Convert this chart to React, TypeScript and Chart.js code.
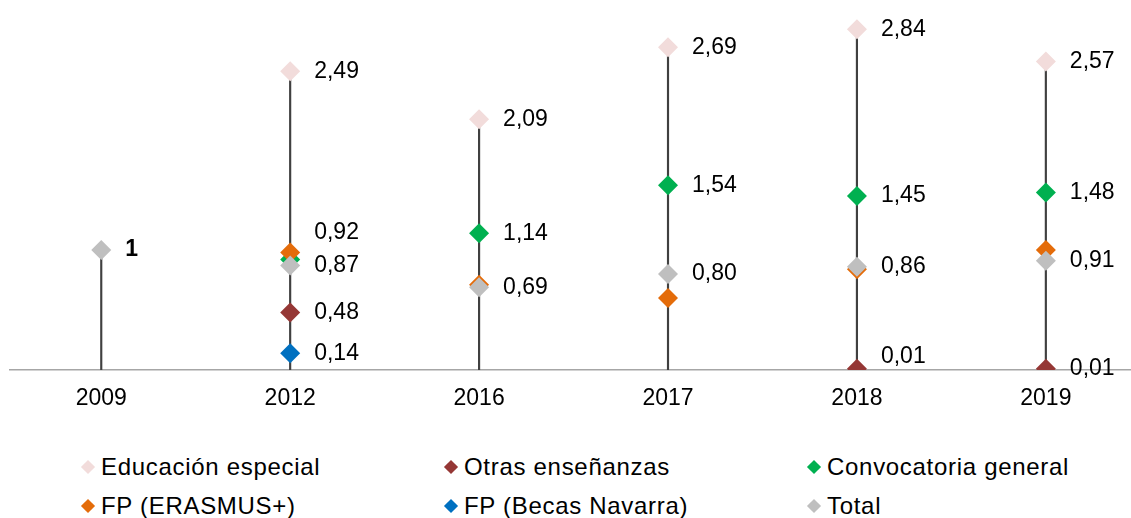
import React, { useEffect, useRef } from "react";
import { Chart, registerables } from "chart.js";

Chart.register(...registerables);

// ---- Data ----
const years = ["2009", "2012", "2016", "2017", "2018", "2019"];
const educacionEspecial = [null, 2.49, 2.09, 2.69, 2.84, 2.57];
const otrasEnsenanzas = [null, 0.48, null, null, 0.01, 0.01];
const convocatoriaGeneral = [null, 0.92, 1.14, 1.54, 1.45, 1.48];
const fpErasmus = [null, 0.98, 0.71, 0.6, 0.84, 1.0];
const fpBecasNavarra = [null, 0.14, null, null, null, null];
const total = [1, 0.87, 0.69, 0.8, 0.86, 0.91];

type Series = { name: string; values: (number | null)[]; color: string; labels: boolean };

const series: Series[] = [
  { name: "Educación especial", values: educacionEspecial, color: "#F2DCDB", labels: true },
  { name: "Otras enseñanzas", values: otrasEnsenanzas, color: "#953735", labels: true },
  { name: "Convocatoria general", values: convocatoriaGeneral, color: "#00B050", labels: true },
  { name: "FP (ERASMUS+)", values: fpErasmus, color: "#E46C0A", labels: false },
  { name: "FP (Becas Navarra)", values: fpBecasNavarra, color: "#0070C0", labels: true },
  { name: "Total", values: total, color: "#BFBFBF", labels: true },
];

// label style tweaks (series index, category index)
const labelTweaks: { s: number; i: number; dy?: number; bold?: boolean }[] = [
  { s: 5, i: 0, bold: true },
  { s: 2, i: 1, dy: -27 },
  { s: 1, i: 4, dy: -12 },
];

const FONT = '"Liberation Sans", Arial, sans-serif';
const FONT_SIZE = 23;

const stemTops = years.map((_, i) => {
  const vals = series.map((s) => s.values[i]).filter((v) => v != null) as number[];
  return vals.length ? Math.max(...vals) : 0;
});

const fmt = (v: number) => (Number.isInteger(v) ? String(v) : v.toFixed(2).replace(".", ","));

const labelPlugin = {
  id: "valueLabels",
  afterDatasetsDraw(chart: any) {
    const ctx = chart.ctx as CanvasRenderingContext2D;
    const xs = chart.scales.x;
    const ys = chart.scales.y;
    ctx.save();
    ctx.textAlign = "left";
    ctx.textBaseline = "middle";
    ctx.fillStyle = "#000";
    series.forEach((s, k) => {
      if (!s.labels) return;
      s.values.forEach((v, i) => {
        if (v == null) return;
        const tw = labelTweaks.find((t) => t.s === k && t.i === i);
        ctx.font = `${tw?.bold ? "bold " : ""}${FONT_SIZE}px ${FONT}`;
        const px = xs.getPixelForValue(i) + 24;
        const py = ys.getPixelForValue(v) + (tw?.dy ?? 0);
        ctx.fillText(fmt(v), px, py);
      });
    });
    ctx.restore();
  },
};

export default function App() {
  const canvasRef = useRef<HTMLCanvasElement | null>(null);

  useEffect(() => {
    if (!canvasRef.current) return;
    const datasets: any[] = [
      {
        type: "bar",
        label: "stems",
        data: years.map((_, i) => ({ x: i, y: [0, stemTops[i]] })),
        backgroundColor: "#404040",
        borderWidth: 0,
        barThickness: 1.5,
        grouped: false,
        order: 100,
      },
      ...series.map((s, k) => ({
        type: "line",
        label: s.name,
        data: s.values
          .map((v, i) => (v == null ? null : { x: i, y: v }))
          .filter((p) => p !== null),
        showLine: false,
        pointStyle: "rectRot",
        pointRadius: 10,
        pointHoverRadius: 10,
        pointBackgroundColor: s.color,
        pointBorderColor: s.color,
        pointBorderWidth: 0,
        order: 10 - k,
      })),
    ];

    const chart = new Chart(canvasRef.current, {
      type: "line",
      data: { datasets },
      options: {
        animation: false,
        responsive: true,
        maintainAspectRatio: false,
        layout: { padding: { top: 2.5, left: 7, right: 0, bottom: 0 } },
        plugins: { legend: { display: false }, tooltip: { enabled: false } },
        scales: {
          x: {
            type: "linear",
            offset: false,
            min: -0.483,
            max: 5.456,
            grid: { display: false, offset: false },
            border: { display: true, color: "#A6A6A6", width: 1.5 },
            ticks: {
              padding: 7,
              color: "#000",
              font: { family: FONT, size: FONT_SIZE },
              autoSkip: false,
              maxRotation: 0,
              callback: (v: any) => years[v as number] ?? "",
            },
            afterBuildTicks: (s: any) => {
              s.ticks = years.map((_, i) => ({ value: i }));
            },
            afterFit: (s: any) => {
              s.height = 50;
            },
          },
          y: { display: false, min: 0, max: 3 },
        },
      } as any,
      plugins: [labelPlugin],
    });
    return () => chart.destroy();
  }, []);

  const rows = [467, 506];
  return (
    <div
      style={{
        position: "absolute",
        left: 0,
        top: 0,
        width: 1131,
        height: 518,
        background: "#fff",
        overflow: "hidden",
      }}
    >
      <div style={{ position: "absolute", left: 0, top: 0, width: 1142, height: 420 }}>
        <canvas ref={canvasRef} />
      </div>
      {series.map((s, k) => {
        const col = k % 3;
        const row = Math.floor(k / 3);
        return (
          <div
            key={s.name}
            style={{
              position: "absolute",
              left: 83 + col * 363,
              top: rows[row] - 15,
              height: 30,
              display: "flex",
              alignItems: "center",
              fontFamily: FONT,
              fontSize: 24,
              letterSpacing: "0.7px",
              color: "#000",
              whiteSpace: "nowrap",
            }}
          >
            <span
              style={{
                display: "inline-block",
                width: 10,
                height: 10,
                background: s.color,
                transform: "rotate(45deg)",
                marginRight: 8,
              }}
            />
            <span>{s.name}</span>
          </div>
        );
      })}
    </div>
  );
}
